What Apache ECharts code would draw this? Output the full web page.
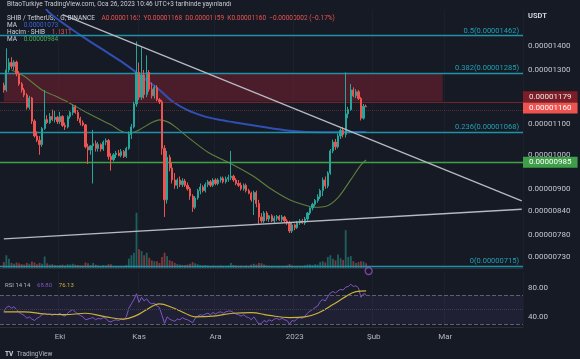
<!DOCTYPE html>
<html><head><meta charset="utf-8">
<script src="https://cdn.jsdelivr.net/npm/echarts/dist/echarts.min.js"></script>
<style>html,body{margin:0;padding:0;background:#161a25;}#c{width:580px;height:359px;}</style>
</head><body><div id="c"></div>
<script>
// prices are in units of 0.00000001 USDT
const UNIT = 1e-8;
const startDate = [2022, 8, 8];      // first day on the time axis (Sep 8, 2022)
const dayCount = 205;                 // days shown on the time axis
const firstCandleDay = 1;             // axis index of the first candle
// [open, high, low, close]
const candles = [
[1240,1250,1212,1222],[1222,1390,1215,1300],[1300,1348,1290,1330],[1330,1352,1305,1315],[1315,1340,1300,1332],
[1332,1338,1275,1285],[1285,1295,1238,1245],[1245,1252,1212,1222],[1222,1230,1195,1203],[1203,1210,1150,1158],
[1158,1200,1150,1192],[1192,1196,1100,1110],[1110,1116,1055,1060],[1060,1075,1040,1046],[1046,1060,1000,1032],
[1032,1090,1025,1085],[1085,1222,1080,1115],[1115,1130,1100,1105],[1105,1138,1100,1126],[1126,1150,1110,1115],
[1115,1145,1105,1123],[1123,1128,1100,1108],[1108,1142,1100,1126],[1126,1130,1090,1095],[1095,1105,1080,1090],
[1090,1130,1085,1125],[1125,1146,1118,1140],[1140,1168,1130,1160],[1160,1166,1135,1140],[1140,1148,1110,1118],
[1118,1125,1095,1104],[1104,1112,1092,1097],[1097,1100,1020,1025],[1025,1035,972,1015],[1015,1030,1000,1028],
[1028,1080,915,1035],[1035,1045,1010,1020],[1020,1040,1010,1032],[1032,1036,1010,1018],[1018,1045,1012,1040],
[1040,1052,1030,1045],[1045,1050,985,995],[995,1005,952,985],[985,1005,980,1000],[1000,1012,990,1005],
[1005,1015,995,998],[998,1018,992,1010],[1010,1015,990,995],[995,1025,990,1020],[1020,1075,1015,1065],
[1065,1100,1050,1090],[1090,1178,1085,1170],[1170,1420,1160,1290],[1290,1330,1185,1195],[1195,1395,1185,1280],
[1280,1300,1190,1205],[1205,1360,1195,1290],[1290,1300,1215,1225],[1225,1250,1190,1200],[1200,1240,1190,1232],
[1232,1240,1180,1186],[1186,1192,1170,1178],[1178,1185,1000,1020],[1020,1030,825,870],[870,1012,860,992],
[992,1000,950,960],[960,975,915,925],[925,945,900,910],[910,930,900,925],[925,935,905,912],
[912,930,905,922],[922,928,905,910],[910,918,895,900],[900,905,870,880],[880,885,838,850],
[850,880,845,875],[875,900,870,895],[895,915,885,905],[905,910,890,895],[895,918,890,912],
[912,925,905,920],[920,925,905,910],[910,930,905,925],[925,930,910,915],[915,930,910,925],
[925,935,918,930],[930,935,915,920],[920,935,915,928],[928,940,920,932],[932,1012,925,936],
[936,940,920,925],[925,930,910,915],[915,925,905,910],[910,918,895,900],[900,915,895,910],
[910,915,890,895],[895,900,885,888],[888,892,865,870],[870,895,830,890],[890,895,850,860],
[860,870,808,825],[825,835,810,815],[815,840,810,835],[835,840,815,820],[820,830,812,828],
[828,832,812,815],[815,828,810,822],[822,830,815,826],[826,830,815,818],[818,830,812,825],
[825,828,812,815],[815,820,805,810],[810,815,785,790],[790,810,785,805],[805,808,792,798],
[798,815,795,810],[810,820,805,815],[815,820,808,810],[810,825,805,820],[820,838,815,835],
[835,850,830,848],[848,862,842,858],[858,872,852,868],[868,885,862,878],[878,900,872,895],
[895,932,880,925],[925,935,900,908],[908,950,902,945],[945,1018,940,1012],[1012,1048,1005,1040],
[1040,1050,1015,1025],[1025,1068,1020,1060],[1060,1085,1050,1078],[1078,1090,1055,1065],[1065,1290,1055,1135],
[1135,1160,1120,1150],[1150,1245,1145,1222],[1222,1232,1195,1200],[1200,1225,1192,1215],[1215,1222,1185,1190],
[1190,1196,1112,1120],[1120,1170,1115,1162],[1162,1168,1159,1160]
];
// volume, trillions of SHIB
const volumes = [1.4,3.0,2.2,1.2,1.0,1.3,1.1,0.9,0.8,1.2, 1.0,1.5,1.3,0.9,1.2,1.0,2.7,1.1,0.8,0.9,
0.7,0.6,0.7,0.8,0.6,0.9,0.8,1.0,0.8,0.7, 0.6,0.6,1.3,1.1,0.7,1.2,0.8,0.6,0.5,0.7,
0.6,0.9,0.9,0.5,0.5,0.4,0.5,0.5,0.7,2.2, 3.0,3.6,13.0,4.4,4.0,3.0,3.6,2.4,1.8,1.6,
1.6,1.2,2.6,3.6,2.8,1.8,1.6,1.2,0.9,0.8, 0.7,0.7,0.8,1.0,1.4,1.1,0.9,0.7,0.6,0.7,
0.6,0.5,0.6,0.5,0.5,0.6,0.5,0.5,0.6,1.2, 0.7,0.6,0.5,0.6,0.5,0.6,0.5,0.8,1.0,0.8,
1.2,1.1,0.8,0.6,0.5,0.5,0.4,0.4,0.5,0.4, 0.5,0.6,0.9,0.6,0.4,0.5,0.4,0.4,0.6,0.8,
0.8,0.7,0.9,0.8,1.4,1.6,1.3,2.6,3.0,2.2, 1.8,3.2,2.3,1.9,8.9,2.6,2.8,1.6,1.2,1.4,
1.6,1.5,1.131];
const rsi = [48,53,55,52,54,50,46,44,42,38, 40,37,35,38,40,43,45,43,44,42, 44,43,45,42,41,45,48,50,47,44,
42,40,36,37,38,39,36,38,37,39, 38,34,33,35,36,35,37,36,40,52, 58,64,72,60,67,62,65,60,58,59,
55,53,42,31,40,37,35,34,37,36, 39,37,36,34,32,38,41,43,42,44, 45,43,46,44,46,47,45,47,48,48,
46,44,43,41,43,40,39,36,40,35, 30,31,35,33,36,34,37,38,36,38, 36,35,30,35,34,38,39,38,41,45,
48,50,53,55,61,64,62,68,73,75, 73,76,78,77,81,82,85,82,83,80, 67,72,71];
// [candle index, value]
const rsiSma = [[0,47],[8,47],[16,44],[24,43],[32,45],[40,40],[47,37],[52,42],[56,50],[61,58],[66,53],[71,45],[75,40],[82,41],[90,45],[97,46],[104,42],[112,39],[118,40],[123,45],[129,57],[134,68],[138,75],[142,76]];
const maLong = [[14,1620],[18,1550],[31,1440],[39,1383],[46,1335],[52,1290],[57,1252],[61,1222],[66,1180],[72,1148],[78,1128],[84,1115],[90,1106],[100,1092],[112,1077],[125,1072],[135,1073],[142,1073]];
const maShort = [[3,1300],[8,1275],[15,1222],[20,1200],[25,1177],[33,1137],[42,1097],[47,1072],[50,1070],[53,1080],[58,1105],[61,1114],[64,1108],[67,1092],[72,1057],[80,1008],[90,969],[98,935],[104,903],[112,870],[118,856],[122,850],[126,852],[131,876],[136,926],[140,969],[142,984]];
// [axis day index, price]
const trendDown = [[24,1543],[204,867]];
const trendUp = [[1,771],[204,845]];
const fibLevels = [['0.5',1462],['0.382',1285],['0.236',1068],['0',715]];
const priceTicks = [1400,1300,1200,1100,1000,900,840,780,730];
const priceRange = [704.5,1565];
const supportLevel = 985;
const zone = {top:1285, bottom:1179, fromDay:1, toDay:173};
const lastPrice = 1160;
const rsiTicks = [40,80];
const rsiBand = [30,70];
const monthsTR = ['Oca','Şub','Mar','Nis','May','Haz','Tem','Ağu','Eyl','Eki','Kas','Ara'];

const L = v => Math.log10(v);
const fmt = v => (v*UNIT).toFixed(8);
const cats = [];
const t0 = Date.UTC(startDate[0], startDate[1], startDate[2]);
for (let k=0;k<dayCount;k++) cats.push(new Date(t0+k*86400000).toISOString().slice(0,10));
const off = firstCandleDay;
const candleData = cats.map(()=>'-');
candles.forEach((c,i)=>{candleData[i+off]=[L(c[0]),L(c[3]),L(c[2]),L(c[1])];});
const volData = cats.map(()=>'-');
volumes.forEach((v,i)=>{const up=candles[i][3]>=candles[i][0];volData[i+off]={value:v,itemStyle:{color:up?'rgba(38,166,154,0.5)':'rgba(239,83,80,0.5)'}};});
const rsiData = cats.map(()=>'-');
rsi.forEach((v,i)=>{rsiData[i+off]=v;});
const pts = (arr,log)=>arr.map(([i,v])=>[i+off, log?L(v):v]);
const axisPts = arr=>arr.map(([d,v])=>[d,L(v)]);
const isMonth = (idx,val)=>val.slice(8)==='01';
const monthLabel = val=>{const m=+val.slice(5,7)-1; return m===0?val.slice(0,4):monthsTR[m];};
const txt='#b2b5be', font='Roboto';

const chart = echarts.init(document.getElementById('c'));
chart.setOption({
  backgroundColor:'#161a25', animation:false,
  textStyle:{fontFamily:font},
  grid:[{left:0,right:57,top:10,height:258},{left:0,right:57,top:200,height:68},{left:0,right:57,top:272,height:55}],
  xAxis:[
    {type:'category',data:cats,gridIndex:0,axisLine:{lineStyle:{color:'#2a2e39'}},axisTick:{show:false},axisLabel:{show:false},
     splitLine:{show:true,interval:isMonth,lineStyle:{color:'#1c202d'}}},
    {type:'category',data:cats,gridIndex:1,show:false},
    {type:'category',data:cats,gridIndex:2,axisLine:{lineStyle:{color:'#2a2e39'}},axisTick:{show:false},
     axisLabel:{interval:isMonth,formatter:monthLabel,color:txt,fontSize:8,margin:6},
     splitLine:{show:true,interval:isMonth,lineStyle:{color:'#1c202d'}}}
  ],
  yAxis:[
    {type:'value',gridIndex:0,position:'right',min:L(priceRange[0]),max:L(priceRange[1]),
     axisLine:{show:false},axisTick:{show:false,customValues:priceTicks.map(L)},splitLine:{show:false},
     axisLabel:{customValues:priceTicks.map(L),formatter:v=>fmt(Math.pow(10,v)),color:'#c3c6ce',fontSize:8,margin:5}},
    {type:'value',gridIndex:1,min:0,max:16,show:false},
    {type:'value',gridIndex:2,position:'right',min:26,max:102,axisLine:{show:false},axisTick:{show:false,customValues:rsiTicks},
     splitLine:{show:false},axisLabel:{customValues:rsiTicks,formatter:v=>v.toFixed(2),color:'#c3c6ce',fontSize:8,margin:5}}
  ],
  series:[
    {type:'line',xAxisIndex:0,yAxisIndex:0,data:[],z:1,silent:true,
     markArea:{silent:true,itemStyle:{color:'rgba(139,34,50,0.45)'},
       data:[[{xAxis:cats[zone.fromDay],yAxis:L(zone.top)},{xAxis:cats[zone.toDay],yAxis:L(zone.bottom)}]]}},
    {type:'line',xAxisIndex:0,yAxisIndex:0,data:[],z:2,silent:true,
     markLine:{silent:true,symbol:['none','none'],
       data:[
        ...fibLevels.map(([r,v])=>({yAxis:L(v),lineStyle:{color:'#1d93a5',width:1.3,type:'solid'},
          label:{show:true,position:'insideEndTop',distance:[4,1],formatter:r+'('+fmt(v)+')',color:'#22a0b3',fontSize:7.5}})),
        {yAxis:L(supportLevel),lineStyle:{color:'#43a047',width:1.3,type:'solid'},
          label:{show:true,position:'end',distance:0,formatter:fmt(supportLevel),color:'#fff',fontSize:8,backgroundColor:'#3e9f48',padding:[1,6],lineHeight:9}},
        {yAxis:L(zone.bottom),lineStyle:{color:'#74222e',width:1,type:'solid'},
          label:{show:true,position:'end',distance:0,offset:[0,-6],formatter:fmt(zone.bottom),color:'#e8e8e8',fontSize:8,backgroundColor:'#7c1d27',padding:[1,6],lineHeight:9}},
        {yAxis:L(lastPrice),lineStyle:{color:'rgba(239,83,80,0.3)',width:1,type:'dotted'},
          label:{show:true,position:'end',distance:0,offset:[0,-2],formatter:fmt(lastPrice),color:'#fff',fontSize:8,backgroundColor:'#ef5350',padding:[1,6],lineHeight:9}}
       ]}},
    {type:'line',name:'maLong',xAxisIndex:0,yAxisIndex:0,data:pts(maLong,true),smooth:0.3,symbol:'none',z:3,
     lineStyle:{color:'#2f4fb3',width:2}},
    {type:'line',name:'maShort',xAxisIndex:0,yAxisIndex:0,data:pts(maShort,true),smooth:0.3,symbol:'none',z:3,
     lineStyle:{color:'#617f3c',width:1.1}},
    {type:'candlestick',xAxisIndex:0,yAxisIndex:0,data:candleData,barWidth:1.7,z:5,
     itemStyle:{color:'#26a69a',color0:'#ef5350',borderColor:'#26a69a',borderColor0:'#ef5350',borderWidth:1}},
    {type:'line',xAxisIndex:0,yAxisIndex:0,data:axisPts(trendDown),symbol:'none',z:6,lineStyle:{color:'#b6b9c2',width:1.4}},
    {type:'line',xAxisIndex:0,yAxisIndex:0,data:axisPts(trendUp),symbol:'none',z:6,lineStyle:{color:'#b6b9c2',width:1.4}},
    {type:'bar',xAxisIndex:1,yAxisIndex:1,data:volData,barWidth:1.8,z:1},
    {type:'scatter',xAxisIndex:1,yAxisIndex:1,data:[[candles.length+off,0]],symbol:'circle',symbolSize:7,symbolOffset:[0,3],z:7,
     itemStyle:{color:'#161a25',borderColor:'#9c4dcc',borderWidth:1.3}},
    {type:'line',xAxisIndex:2,yAxisIndex:2,data:rsiData,symbol:'none',z:3,lineStyle:{color:'#7e57c2',width:1},
     markArea:{silent:true,itemStyle:{color:'rgba(126,87,194,0.1)'},data:[[{yAxis:rsiBand[0]},{yAxis:rsiBand[1]}]]},
     markLine:{silent:true,symbol:['none','none'],label:{show:false},
       data:[{yAxis:rsiBand[1],lineStyle:{color:'#5d6070',type:'dashed',width:1}},{yAxis:50,lineStyle:{color:'#3a3d4a',type:'dotted',width:1}},{yAxis:rsiBand[0],lineStyle:{color:'#5d6070',type:'dashed',width:1}}]}},
    {type:'line',xAxisIndex:2,yAxisIndex:2,data:pts(rsiSma,false),smooth:0.4,symbol:'none',z:4,lineStyle:{color:'#cbb23a',width:1.2}}
  ],
  graphic:[
    {type:'text',left:7,top:1,style:{text:'BitaoTurkiye TradingView.com, Oca 26, 2023 10:46 UTC+3 tarihinde yayınlandı',fill:'#c9ccd3',font:'6.5px Roboto'}},
    {type:'text',left:7,top:12,style:{text:'{a|SHIB / TetherUS, 1G, BINANCE}  {b|A0.00001162  Y0.00001168  D0.00001159  K0.00001160  −0.00000002 (−0.17%)}',
      rich:{a:{fill:'#d1d4dc',font:'6.5px Roboto'},b:{fill:'#ef5350',font:'6.5px Roboto'}}}},
    {type:'text',left:7,top:19,style:{text:'{a|MA}  {b|0.00001073}',rich:{a:{fill:'#d1d4dc',font:'6.5px Roboto'},b:{fill:'#3d63d8',font:'6.5px Roboto'}}}},
    {type:'text',left:7,top:26,style:{text:'{a|Hacim · SHIB}  {b|1.131T}',rich:{a:{fill:'#d1d4dc',font:'6.5px Roboto'},b:{fill:'#ef5350',font:'6.5px Roboto'}}}},
    {type:'text',left:7,top:33,style:{text:'{a|MA}  {b|0.00000984}',rich:{a:{fill:'#d1d4dc',font:'6.5px Roboto'},b:{fill:'#4caf50',font:'6.5px Roboto'}}}},
    {type:'text',left:528,top:12,style:{text:'USDT',fill:'#d1d4dc',font:'bold 7.5px Roboto'}},
    {type:'text',left:5,top:279,style:{text:'{a|RSI 14 14}  {b|68.80}  {c|76.13}',rich:{a:{fill:'#b2b5be',font:'6px Roboto'},b:{fill:'#7e57c2',font:'6px Roboto'},c:{fill:'#cbb23a',font:'6px Roboto'}}}},
    {type:'text',left:5,top:348,style:{text:'{a|TV} {b|TradingView}',rich:{a:{fill:'#d1d4dc',font:'bold 6.5px Roboto'},b:{fill:'#b2b5be',font:'6.5px Roboto'}}}}
  ]
});
</script></body></html>
